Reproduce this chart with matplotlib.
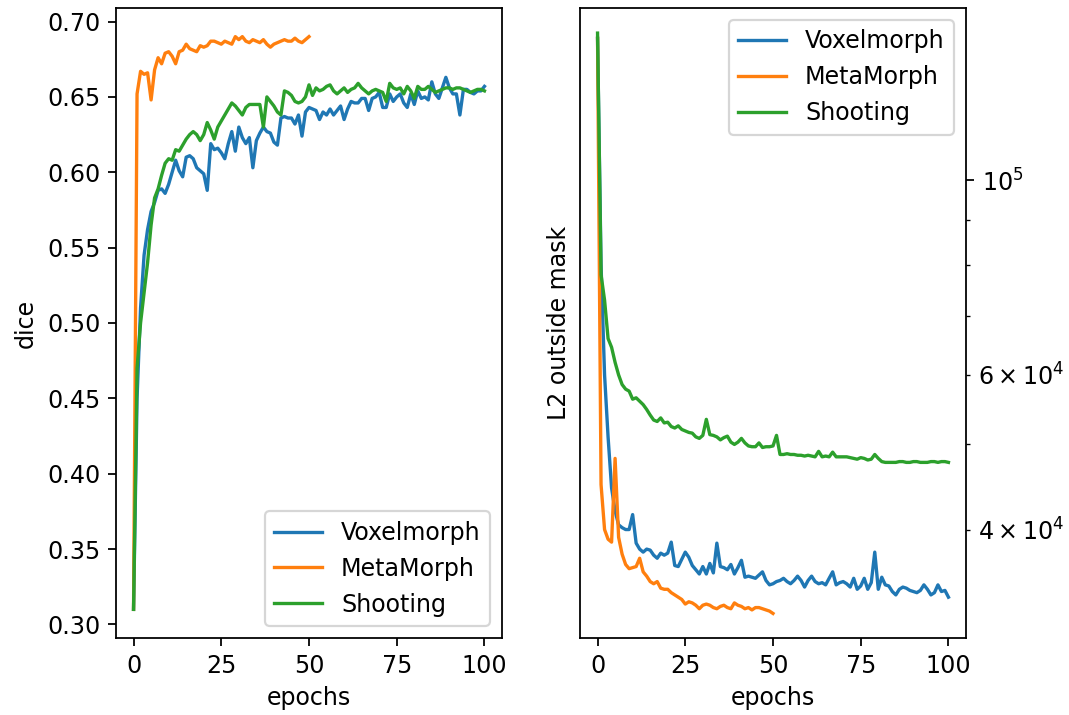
import numpy as np
import matplotlib
matplotlib.use("Agg")
import matplotlib.pyplot as plt

# ---- dice per epoch ----
dice_voxelmorph = [
    0.310, 0.450, 0.510, 0.545, 0.562, 0.574, 0.580, 0.588, 0.589, 0.586,
    0.592, 0.600, 0.608, 0.601, 0.597, 0.610, 0.611, 0.609, 0.603, 0.601,
    0.599, 0.588, 0.619, 0.615, 0.616, 0.613, 0.609, 0.619, 0.627, 0.614,
    0.630, 0.623, 0.619, 0.623, 0.603, 0.621, 0.626, 0.630, 0.627, 0.626,
    0.620, 0.618, 0.636, 0.637, 0.636, 0.636, 0.632, 0.638, 0.624, 0.640,
    0.643, 0.642, 0.641, 0.635, 0.640, 0.638, 0.642, 0.638, 0.641, 0.644,
    0.635, 0.642, 0.647, 0.646, 0.646, 0.649, 0.649, 0.641, 0.649, 0.650,
    0.653, 0.643, 0.643, 0.652, 0.647, 0.650, 0.652, 0.646, 0.643, 0.652,
    0.645, 0.654, 0.649, 0.650, 0.648, 0.660, 0.652, 0.649, 0.656, 0.663,
    0.656, 0.652, 0.652, 0.638, 0.655, 0.655, 0.653, 0.652, 0.654, 0.654,
    0.657,
]
dice_metamorph = [
    0.310, 0.652, 0.667, 0.665, 0.666, 0.648, 0.668, 0.676, 0.672, 0.679,
    0.680, 0.677, 0.672, 0.680, 0.681, 0.685, 0.682, 0.681, 0.680, 0.684,
    0.683, 0.684, 0.687, 0.687, 0.686, 0.685, 0.687, 0.686, 0.685, 0.690,
    0.688, 0.690, 0.687, 0.686, 0.688, 0.687, 0.686, 0.688, 0.685, 0.683,
    0.685, 0.686, 0.687, 0.688, 0.687, 0.687, 0.689, 0.687, 0.686, 0.688,
    0.690,
]
dice_shooting = [
    0.310, 0.470, 0.500, 0.520, 0.540, 0.565, 0.583, 0.589, 0.598, 0.606,
    0.609, 0.608, 0.615, 0.614, 0.618, 0.622, 0.625, 0.627, 0.625, 0.621,
    0.625, 0.633, 0.628, 0.622, 0.630, 0.634, 0.638, 0.642, 0.646, 0.644,
    0.641, 0.638, 0.643, 0.645, 0.645, 0.645, 0.645, 0.630, 0.650, 0.647,
    0.644, 0.640, 0.638, 0.654, 0.653, 0.651, 0.647, 0.646, 0.647, 0.650,
    0.658, 0.651, 0.656, 0.654, 0.655, 0.657, 0.658, 0.654, 0.652, 0.654,
    0.656, 0.653, 0.655, 0.656, 0.659, 0.656, 0.654, 0.652, 0.654, 0.655,
    0.654, 0.653, 0.647, 0.659, 0.656, 0.655, 0.656, 0.652, 0.657, 0.654,
    0.649, 0.657, 0.655, 0.655, 0.657, 0.655, 0.653, 0.654, 0.655, 0.656,
    0.656, 0.655, 0.656, 0.656, 0.655, 0.654, 0.653, 0.654, 0.655, 0.655,
    0.654,
]

# ---- L2 norm of the displacement outside the mask, per epoch ----
l2_voxelmorph = [
    145000, 80000, 60000, 51000, 44600, 42000, 40500, 40200, 40000, 40000,
    41600, 38600, 38000, 37700, 38000, 37900, 37400, 37100, 37600, 37400,
    37600, 38700, 36400, 36300, 37000, 37700, 37200, 36400, 36000, 35600,
    36300, 35600, 36600, 35700, 38600, 36300, 36200, 36000, 36500, 35600,
    36200, 36900, 35300, 35400, 35300, 35200, 35500, 35800, 35000, 34600,
    34700, 34900, 35000, 35200, 34900, 34700, 35000, 35400, 35000, 34400,
    35000, 35400, 34900, 34700, 34800, 34600, 35200, 35800, 34600, 34800,
    34900, 34700, 34400, 35200, 34200, 34500, 35200, 34200, 34800, 37700,
    34200, 35300, 34600, 34500, 34000, 33700, 34200, 34400, 34300, 34100,
    34000, 33900, 34100, 34600, 34200, 33700, 33900, 34600, 34000, 34100,
    33500,
]
l2_metamorph = [
    145000, 45000, 40000, 39000, 38700, 48200, 39200, 37500, 36500, 36100,
    36200, 36300, 37100, 35800, 35400, 34900, 34700, 34900, 34300, 34200,
    34200, 33900, 33700, 33500, 33300, 32900, 33100, 33000, 32800, 32500,
    32800, 32900, 32800, 32600, 32500, 32700, 32800, 32600, 32500, 33000,
    32800, 32700, 32500, 32600, 32400, 32600, 32600, 32500, 32400, 32300,
    32100,
]
l2_shooting = [
    147000, 78000, 73000, 66000, 64500, 62000, 60000, 58500, 57800, 57500,
    56300, 56500, 56000, 55500, 54800, 54000, 53300, 53100, 53600, 52900,
    53000, 52400, 52200, 52500, 52000, 51800, 51600, 51500, 51000, 50800,
    51200, 53400, 51300, 51200, 51000, 50600, 50900, 51100, 50300, 50000,
    50300, 50800, 50200, 49800, 49700, 49700, 50200, 49600, 49700, 49700,
    49800, 51200, 48700, 48700, 48800, 48700, 48700, 48600, 48600, 48500,
    48600, 48500, 48400, 49100, 48400, 48500, 48400, 49000, 48400, 48400,
    48400, 48400, 48300, 48200, 48100, 48300, 48200, 48000, 48100, 48700,
    48200, 47800, 47700, 47700, 47700, 47700, 47800, 47800, 47700, 47700,
    47800, 47800, 47700, 47700, 47700, 47800, 47800, 47700, 47800, 47800,
    47700,
]

labels = ["Voxelmorph", "MetaMorph", "Shooting"]

plt.rcParams["font.size"] = 10.7

W, H, DPI = 1069, 715, 160
fig = plt.figure(figsize=(W / DPI, H / DPI), dpi=DPI)

ax1 = fig.add_axes([116 / W, 1 - 638 / H, 386 / W, 630 / H])
ax2 = fig.add_axes([580 / W, 1 - 638 / H, 386 / W, 630 / H])

for ax, series in (
    (ax1, (dice_voxelmorph, dice_metamorph, dice_shooting)),
    (ax2, (l2_voxelmorph, l2_metamorph, l2_shooting)),
):
    for values, label in zip(series, labels):
        ax.plot(np.arange(len(values)), values, label=label)
    ax.set_xlabel("epochs")

ax1.set_ylabel("dice")
ax1.legend(loc="lower right")

ax2.set_yscale("log")
ax2.set_ylim(3.01e4, 1.57e5)
ax2.yaxis.tick_right()
ax2.set_ylabel("L2 outside mask")
ax2.yaxis.set_label_position("left")
ax2.legend(loc="upper right")

fig.savefig("out.png", dpi=DPI)
